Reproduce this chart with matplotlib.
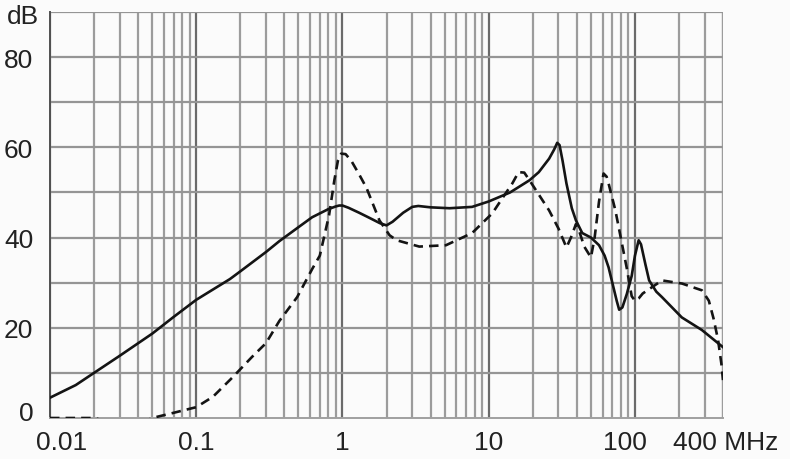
import matplotlib
matplotlib.use("Agg")
import matplotlib.pyplot as plt
from matplotlib.transforms import offset_copy

plt.rcParams['font.family'] = ['Liberation Sans', 'DejaVu Sans']

# solid curve (MHz, dB)
solid_f = [0.01, 0.015, 0.02, 0.03, 0.05, 0.07, 0.1, 0.17, 0.2, 0.3, 0.37, 0.5, 0.62, 0.8, 0.9,
           0.95, 1.0, 1.1, 1.3, 1.5, 1.8, 2.0, 2.2, 2.6, 3.0, 3.3, 4.0, 5.4, 7.7, 10, 14, 19, 22,
           25.9, 28, 29.4, 30.5, 32, 34, 37, 39.5, 43.6, 50, 56.8, 62, 66, 70, 75, 78, 82, 88,
           95, 100, 106, 110, 118, 125, 140, 153, 209, 287, 400]
solid_db = [4.5, 7.3, 10, 13.8, 18.7, 22.4, 26.2, 30.8, 32.5, 36.8, 39.2, 42.3, 44.5, 46.3, 46.9,
            47.1, 47.1, 46.6, 45.5, 44.5, 43.2, 42.7, 43.5, 45.5, 46.8, 47.0, 46.7, 46.5, 46.8, 48, 50, 52.7, 54.5,
            57.5, 59.5, 61, 60.5, 57, 52, 46.5, 43.8, 41, 40, 38.3, 36, 33.4, 30, 26, 24, 24.5, 27.5,
            31.5, 36, 39.4, 38.5, 34, 30.5, 28, 26.8, 22.3, 19.5, 15.7]

# dashed curve (MHz, dB)
dash_f = [0.01, 0.02, 0.03, 0.04, 0.05, 0.069, 0.1, 0.13, 0.177, 0.24, 0.3, 0.37, 0.49, 0.62, 0.70,
          0.81, 0.88, 0.93, 0.98, 1.05, 1.15, 1.3, 1.46, 1.79, 2.1, 2.35, 3.35, 5.1, 7.7, 10.6,
          11.7, 14.5, 16, 17.5, 19, 25.9, 30, 34, 36.5, 39.5, 42, 45, 50, 53, 56.8, 61, 64, 66,
          73.5, 87.7, 95, 100, 106, 113, 153, 210, 287, 320, 345, 370, 390, 400]
dash_db = [0, 0, -1.5, -1.5, 0, 1.1, 2.4, 4.7, 9, 13.5, 16.6, 21.5, 26.8, 33, 36,
           45, 52.7, 57, 58.6, 58.5, 57, 54, 51, 43.8, 40.5, 39.4, 38, 38.3, 41, 45.4,
           47.5, 52, 54.5, 54.4, 52.7, 46, 42, 37.8, 40, 43, 41, 38, 35.6, 40, 48, 54.2, 53.5, 52,
           46, 33.4, 27, 26, 26.5, 27.6, 30.5, 29.8, 28.3, 26, 22, 17.3, 12, 8.4]

x_ticks = [0.01, 0.1, 1, 10, 100]
x_labels = ['0.01', '0.1', '1', '10', '100']
y_ticks = [0, 20, 40, 60, 80]

fig = plt.figure(figsize=(7.9, 4.6), dpi=100, facecolor='#fbfbfb')
ax = fig.add_axes([50/790, 1 - 419/460, (723 - 50)/790, (419 - 13)/460])
ax.set_facecolor('#fbfbfb')
ax.set_xscale('log')
ax.set_xlim(0.01, 400)
ax.set_ylim(0, 90)

# grid
for dec in [0.01, 0.1, 1, 10, 100]:
    for m in range(1, 10):
        f = dec * m
        if f > 400:
            break
        if m == 1:
            ax.axvline(f, color='#6a6a6a', lw=1.6, zorder=1)
        else:
            ax.axvline(f, color='#9c9c9c', lw=1.6, zorder=1)
ax.axvline(400, color='#9c9c9c', lw=1.6, zorder=1)
for y in range(10, 91, 10):
    ax.axhline(y, color='#959595', lw=1.6, zorder=1)

ax.plot(solid_f, solid_db, color='#141414', lw=1.9, zorder=3, solid_joinstyle='round')
ax.plot(dash_f, dash_db, color='#141414', lw=1.9, dashes=(3.6, 2.3), zorder=3)

for s in ['top', 'right']:
    ax.spines[s].set_visible(False)
ax.spines['left'].set_color('#505050')
ax.spines['left'].set_linewidth(1.4)
ax.spines['bottom'].set_color('#a0a0a0')
ax.spines['bottom'].set_linewidth(1.4)

ax.set_xticks(x_ticks)
ax.set_xticklabels(x_labels)
ax.xaxis.set_minor_locator(matplotlib.ticker.NullLocator())
ax.set_yticks(y_ticks)
ax.tick_params(length=0, labelsize=19, colors='#222222')
ax.tick_params(axis='x', pad=9)
ax.tick_params(axis='y', pad=12)

xl = ax.get_xticklabels()
xl[0].set_transform(offset_copy(xl[0].get_transform(), fig=fig, x=12, y=0, units='dots'))
xl[-1].set_transform(offset_copy(xl[-1].get_transform(), fig=fig, x=-10, y=0, units='dots'))
yl = ax.get_yticklabels()
yl[0].set_transform(offset_copy(yl[0].get_transform(), fig=fig, x=0, y=7, units='dots'))

fig.text(23/790, 1 - 17/460, 'dB', fontsize=19, color='#222222', ha='center', va='center')
fig.text(726/790, 1 - 443/460, '400 MHz', fontsize=19, color='#222222', ha='center', va='center')

fig.savefig('out.png', dpi=100, facecolor=fig.get_facecolor())
